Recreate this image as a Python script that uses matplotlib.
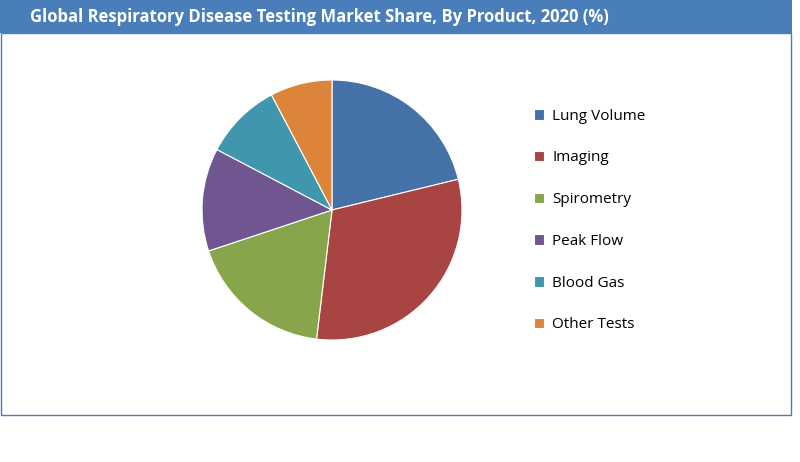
import matplotlib
matplotlib.use("Agg")
import matplotlib.pyplot as plt
from matplotlib.patches import Rectangle

categories = ["Lung Volume", "Imaging", "Spirometry", "Peak Flow", "Blood Gas", "Other Tests"]
values = [21.2, 30.7, 18.0, 12.8, 9.6, 7.7]
colors = ["#4471a8", "#a84442", "#87a54a", "#6f5691", "#4096ad", "#dc8439"]
title = "Global Respiratory Disease Testing Market Share, By Product, 2020 (%)"

W, H = 800, 462
fig = plt.figure(figsize=(W/100, H/100), dpi=100)
fig.patch.set_facecolor("white")

# title bar
fig.patches.append(Rectangle((0, 1-33/H), 792/W, 33/H, transform=fig.transFigure,
                             facecolor="#4a7ebb", edgecolor="none"))
fig.text(30/W, 1-17/H, title, color="white", fontsize=12, fontweight="bold",
         va="center", ha="left", family="Open Sans")
# border
fig.patches.append(Rectangle((1/W, 1-415/H), 790/W, (415-33)/H, transform=fig.transFigure,
                             facecolor="none", edgecolor="#4a7ebb", linewidth=1))

r = 130
cx, cy = 332, 210
ax = fig.add_axes([(cx-r)/W, 1-(cy+r)/H, 2*r/W, 2*r/H])
wedges, _ = ax.pie(values, colors=colors, startangle=90, counterclock=False,
                   radius=1, wedgeprops=dict(linewidth=0.8, edgecolor="white"))
ax.set_xlim(-1, 1); ax.set_ylim(-1, 1)
ax.set_aspect("equal")

fig.legend(wedges, categories, loc="upper left", bbox_to_anchor=(520/W, 1-95/H),
           frameon=False, fontsize=11, handlelength=0.7, handleheight=0.7,
           labelspacing=1.75, handletextpad=0.5, prop={"family": "Open Sans", "size": 11})
fig.savefig("out.png", dpi=100)
